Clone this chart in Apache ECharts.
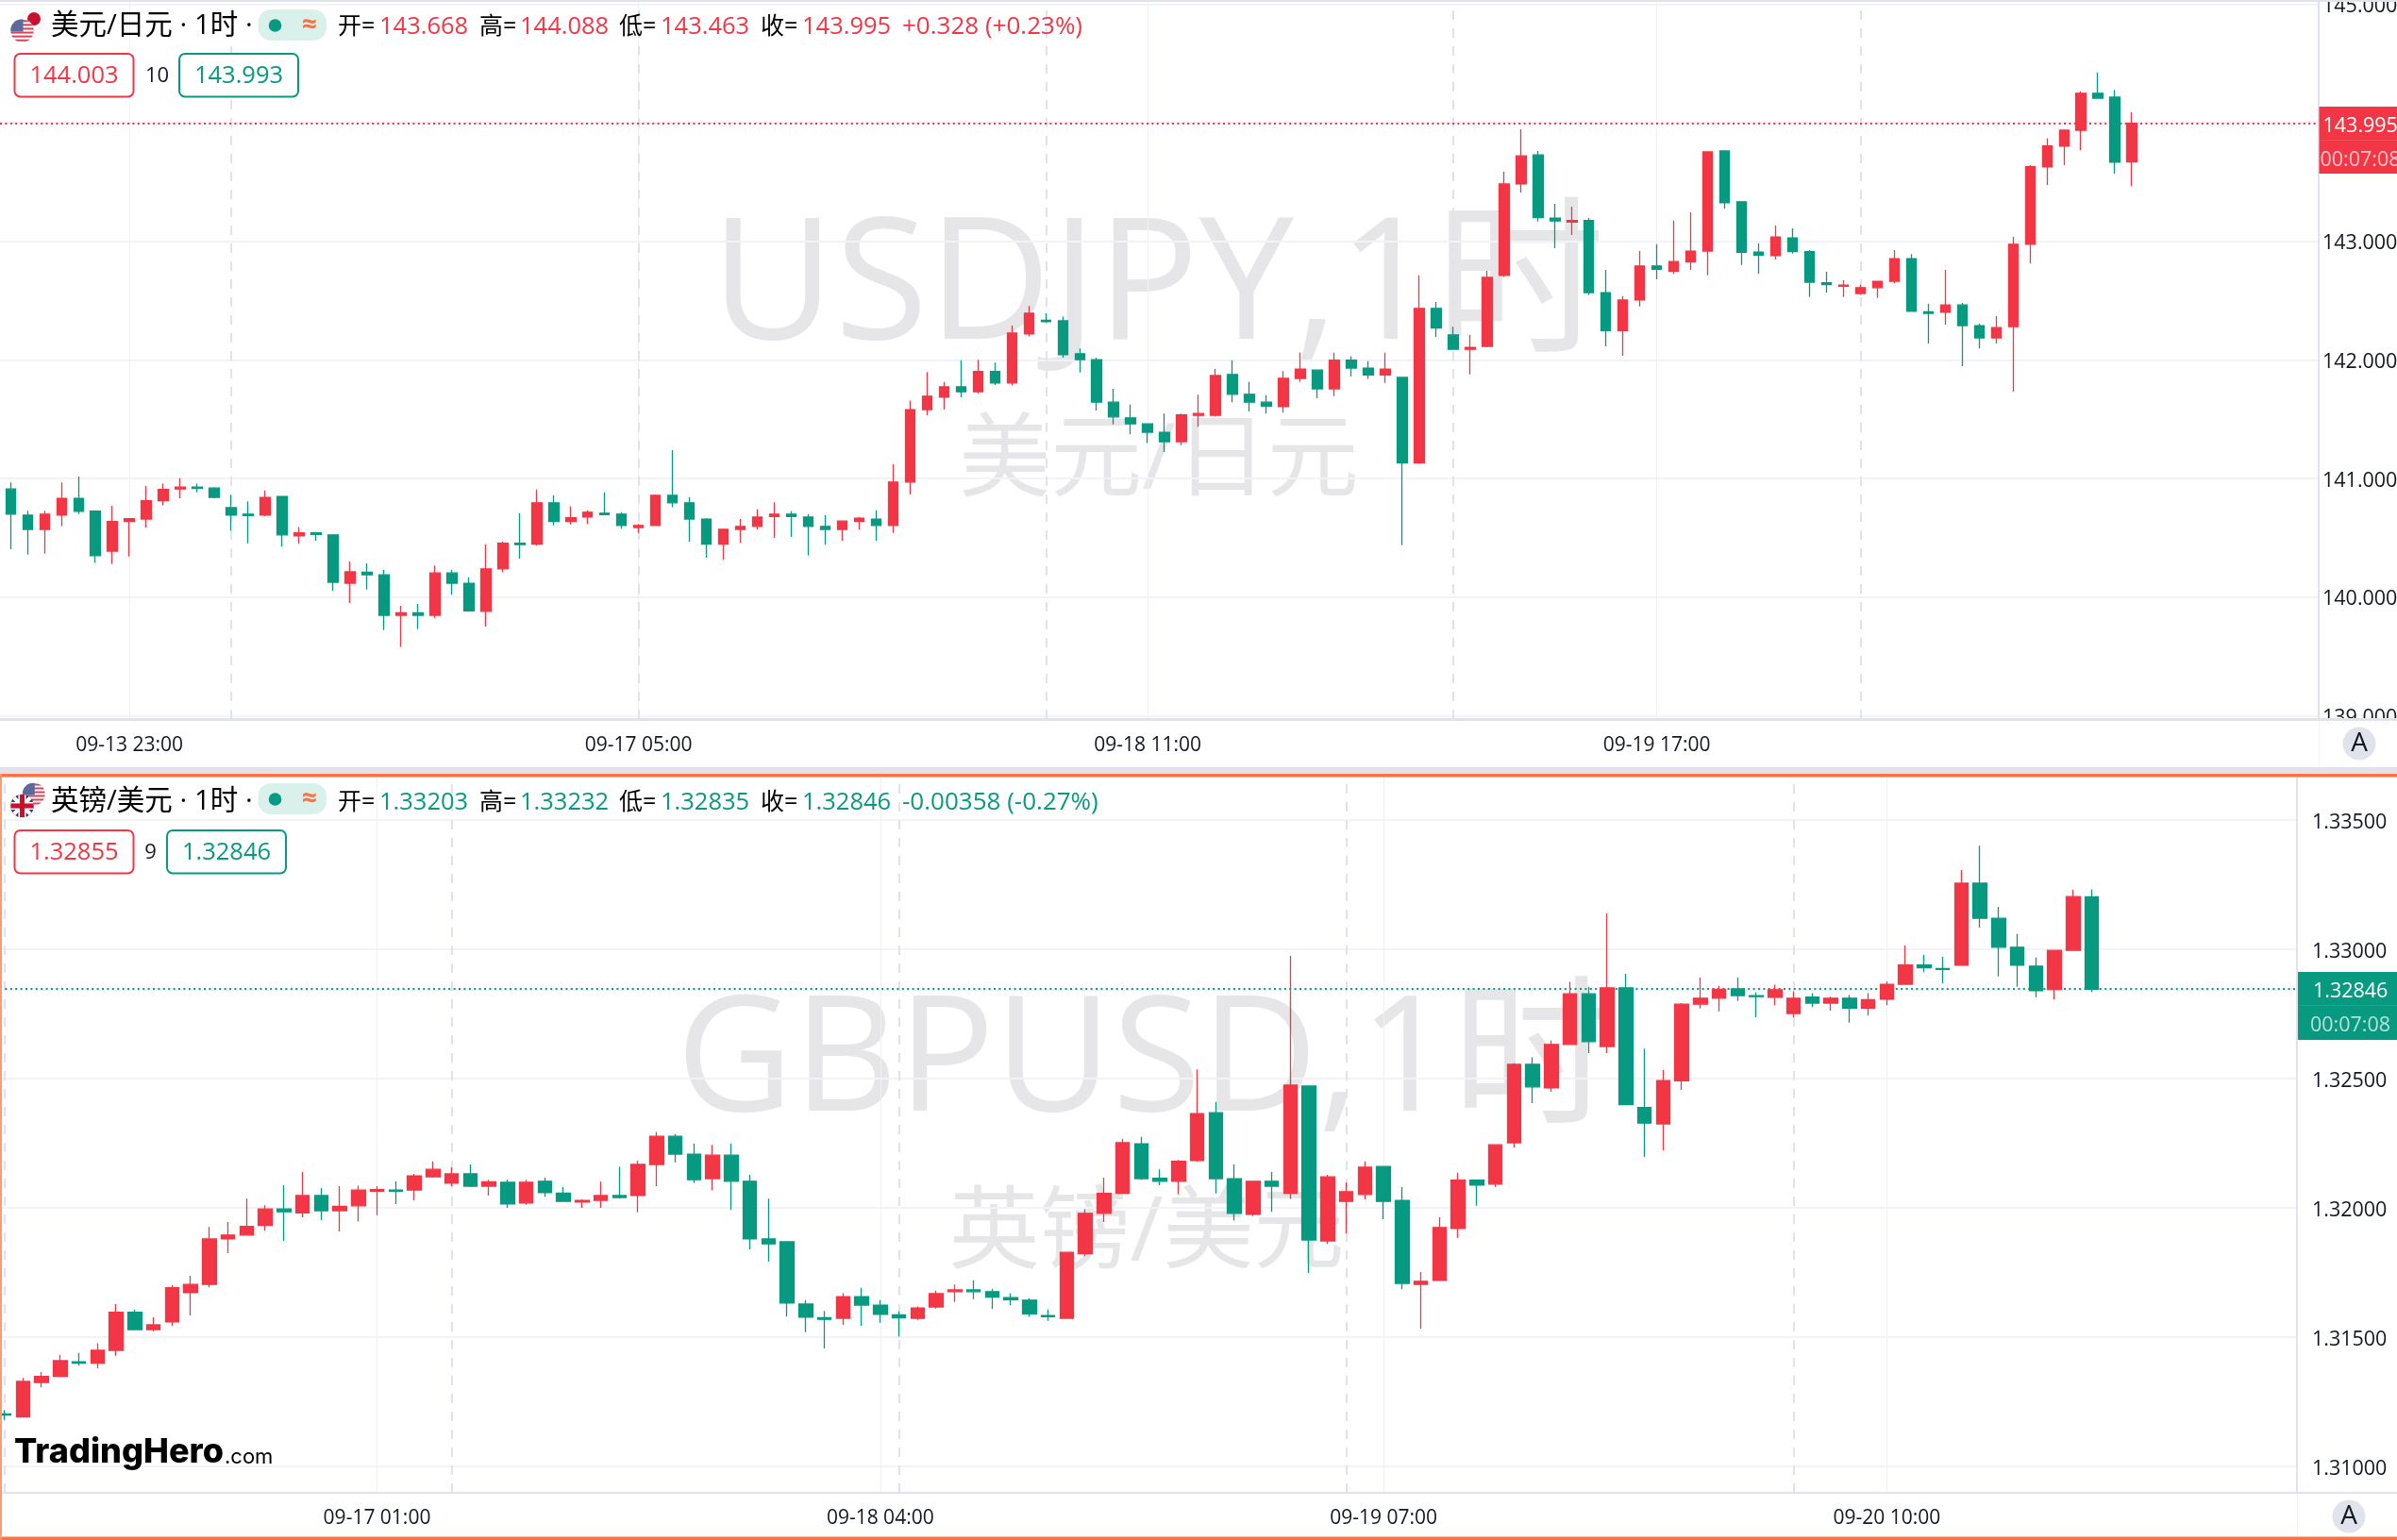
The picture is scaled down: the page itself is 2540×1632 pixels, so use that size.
<!DOCTYPE html>
<html>
<head>
<meta charset="utf-8">
<title>USDJPY GBPUSD 1H</title>
<style>
html, body { margin: 0; padding: 0; background: #fff; }
#main { width: 2540px; height: 1632px; }
</style>
<script src="https://cdn.jsdelivr.net/npm/echarts@6/dist/echarts.min.js"></script>
</head>
<body>
<div id="main"></div>
<script>
// 美元/日元 每根K线 [开, 收, 低, 高]
var usdjpyBars = [
    [140.912,140.700,140.404,140.966],[140.691,140.571,140.358,140.729],[140.571,140.700,140.367,140.729],[140.691,140.833,140.596,140.966],
    [140.833,140.724,140.700,141.016],[140.724,140.350,140.288,140.724],[140.388,140.637,140.279,140.770],[140.637,140.662,140.342,140.666],
    [140.658,140.812,140.587,140.937],[140.812,140.908,140.774,140.957],[140.912,140.928,140.833,141.003],[140.928,140.916,140.883,140.957],
    [140.920,140.841,140.833,140.928],[140.754,140.691,140.562,140.862],[140.700,140.687,140.454,140.808],[140.691,140.841,140.683,140.899],
    [140.849,140.525,140.425,140.849],[140.516,140.541,140.450,140.591],[140.541,140.529,140.475,140.550],[140.525,140.125,140.051,140.529],
    [140.117,140.213,139.951,140.300],[140.209,140.188,140.063,140.284],[140.188,139.847,139.722,140.229],[139.847,139.868,139.580,139.926],
    [139.868,139.847,139.730,139.942],[139.847,140.204,139.826,140.267],[140.204,140.117,140.021,140.229],[140.117,139.884,139.876,140.167],
    [139.880,140.238,139.751,140.446],[140.238,140.454,140.209,140.467],[140.454,140.442,140.325,140.708],[140.446,140.795,140.433,140.908],
    [140.795,140.637,140.604,140.858],[140.637,140.670,140.612,140.766],[140.675,140.716,140.616,140.733],[140.708,140.695,140.691,140.883],
    [140.700,140.604,140.575,140.716],[140.587,140.604,140.541,140.616],[140.604,140.858,140.600,140.866],[140.858,140.795,140.758,141.240],
    [140.795,140.658,140.467,140.841],[140.658,140.446,140.333,140.666],[140.446,140.571,140.317,140.575],[140.571,140.596,140.458,140.658],
    [140.596,140.675,140.571,140.741],[140.679,140.700,140.500,140.799],[140.700,140.679,140.508,140.724],[140.675,140.596,140.350,140.700],
    [140.596,140.571,140.442,140.691],[140.571,140.641,140.475,140.645],[140.637,140.666,140.571,140.675],[140.658,140.604,140.475,140.733],
    [140.604,140.970,140.541,141.120],[140.970,141.581,140.866,141.656],[141.581,141.694,141.532,141.898],[141.685,141.773,141.581,141.814],
    [141.773,141.731,141.685,141.997],[141.731,141.902,141.715,142.002],[141.902,141.806,141.789,141.977],[141.806,142.226,141.785,142.289],
    [142.218,142.393,142.197,142.455],[142.334,142.322,142.314,142.393],[142.330,142.043,142.018,142.364],[142.052,142.002,141.893,142.097],
    [142.002,141.644,141.573,142.018],[141.644,141.519,141.457,141.756],[141.511,141.461,141.373,141.623],[141.461,141.390,141.299,141.461],
    [141.390,141.311,141.224,141.548],[141.311,141.536,141.282,141.548],[141.532,141.548,141.436,141.706],[141.532,141.868,141.523,141.923],
    [141.877,141.710,141.644,141.997],[141.710,141.644,141.565,141.814],[141.644,141.611,141.548,141.702],[141.606,141.844,141.556,141.906],
    [141.844,141.923,141.814,142.060],[141.914,141.756,141.677,141.914],[141.756,141.997,141.694,142.060],[141.997,141.931,141.860,142.031],
    [141.931,141.873,141.839,141.989],[141.873,141.923,141.806,142.060],[141.852,141.132,140.437,141.852],[141.132,142.434,141.132,142.713],
    [142.434,142.268,142.193,142.488],[142.210,142.089,142.085,142.280],[142.089,142.106,141.877,142.210],[142.114,142.696,142.106,142.750],
    [142.713,143.483,142.700,143.587],[143.483,143.720,143.412,143.944],[143.728,143.200,143.166,143.761],[143.196,143.171,142.942,143.316],
    [143.162,143.175,143.054,143.291],[143.175,142.567,142.547,143.196],[142.567,142.247,142.114,142.759],[142.247,142.505,142.035,142.538],
    [142.505,142.792,142.451,142.917],[142.792,142.763,142.680,142.975],[142.746,142.829,142.725,143.175],[142.825,142.917,142.759,143.245],
    [142.917,143.753,142.713,143.753],[143.761,143.324,143.275,143.761],[143.333,142.908,142.800,143.333],[142.908,142.884,142.725,142.983],
    [142.879,143.037,142.846,143.133],[143.029,142.913,142.896,143.108],[142.913,142.655,142.530,142.925],[142.651,142.634,142.567,142.742],
    [142.621,142.630,142.530,142.671],[142.559,142.609,142.547,142.634],[142.609,142.663,142.522,142.663],[142.663,142.854,142.646,142.925],
    [142.854,142.409,142.409,142.892],[142.405,142.393,142.139,142.472],[142.401,142.463,142.297,142.759],[142.463,142.289,141.948,142.480],
    [142.289,142.185,142.097,142.305],[142.185,142.272,142.139,142.368],[142.280,142.975,141.731,143.037],[142.975,143.628,142.813,143.641],
    [143.628,143.803,143.474,143.869],[143.803,143.936,143.641,143.944],[143.936,144.248,143.770,144.265],[144.248,144.206,144.206,144.423],
    [144.215,143.666,143.570,144.277],[143.668,143.995,143.463,144.088]
];

// 英镑/美元 每根K线 [开, 收, 低, 高]
var gbpusdBars = [
    [1.31203,1.31199,1.31180,1.31218],[1.31191,1.31329,1.31191,1.31342],[1.31325,1.31348,1.31306,1.31365],[1.31348,1.31409,1.31348,1.31432],
    [1.31405,1.31399,1.31390,1.31439],[1.31399,1.31449,1.31380,1.31476],[1.31449,1.31596,1.31428,1.31628],[1.31596,1.31529,1.31527,1.31607],
    [1.31529,1.31548,1.31523,1.31577],[1.31559,1.31691,1.31544,1.31701],[1.31672,1.31704,1.31584,1.31737],[1.31704,1.31880,1.31693,1.31926],
    [1.31880,1.31895,1.31825,1.31945],[1.31895,1.31928,1.31895,1.32036],[1.31932,1.31996,1.31912,1.32010],[1.31996,1.31985,1.31872,1.32088],
    [1.31981,1.32048,1.31964,1.32139],[1.32048,1.31989,1.31953,1.32077],[1.31989,1.32006,1.31909,1.32084],[1.32008,1.32069,1.31947,1.32086],
    [1.32065,1.32071,1.31972,1.32084],[1.32069,1.32065,1.32015,1.32103],[1.32069,1.32124,1.32029,1.32132],[1.32120,1.32149,1.32117,1.32180],
    [1.32096,1.32132,1.32084,1.32157],[1.32132,1.32084,1.32080,1.32168],[1.32084,1.32101,1.32048,1.32109],[1.32099,1.32015,1.32000,1.32109],
    [1.32019,1.32099,1.32012,1.32109],[1.32103,1.32059,1.32042,1.32117],[1.32057,1.32025,1.32023,1.32080],[1.32023,1.32029,1.32000,1.32033],
    [1.32029,1.32048,1.32000,1.32101],[1.32048,1.32040,1.32036,1.32159],[1.32048,1.32168,1.31983,1.32183],[1.32168,1.32277,1.32084,1.32294],
    [1.32277,1.32208,1.32176,1.32286],[1.32208,1.32109,1.32096,1.32248],[1.32113,1.32204,1.32069,1.32244],[1.32204,1.32103,1.31993,1.32248],
    [1.32103,1.31880,1.31840,1.32128],[1.31880,1.31861,1.31792,1.32036],[1.31869,1.31632,1.31580,1.31869],[1.31628,1.31577,1.31519,1.31643],
    [1.31575,1.31569,1.31456,1.31601],[1.31573,1.31657,1.31548,1.31670],[1.31657,1.31624,1.31544,1.31691],[1.31624,1.31588,1.31556,1.31643],
    [1.31586,1.31575,1.31502,1.31600],[1.31573,1.31613,1.31567,1.31619],[1.31617,1.31668,1.31611,1.31680],[1.31676,1.31683,1.31636,1.31704],
    [1.31683,1.31676,1.31647,1.31720],[1.31676,1.31655,1.31609,1.31687],[1.31653,1.31645,1.31624,1.31670],[1.31643,1.31590,1.31579,1.31651],
    [1.31584,1.31579,1.31563,1.31607],[1.31573,1.31828,1.31573,1.31830],[1.31823,1.31979,1.31813,1.31996],[1.31979,1.32056,1.31945,1.32117],
    [1.32056,1.32252,1.32054,1.32267],[1.32248,1.32113,1.32109,1.32275],[1.32115,1.32103,1.32088,1.32149],[1.32103,1.32180,1.32052,1.32185],
    [1.32183,1.32365,1.32178,1.32536],[1.32368,1.32113,1.32056,1.32410],[1.32113,1.31979,1.31951,1.32168],[1.31975,1.32103,1.31968,1.32103],
    [1.32103,1.32084,1.31985,1.32139],[1.32056,1.32475,1.32035,1.32975],[1.32471,1.31876,1.31748,1.32471],[1.31872,1.32120,1.31861,1.32128],
    [1.32025,1.32063,1.31901,1.32099],[1.32052,1.32157,1.32033,1.32180],[1.32160,1.32025,1.31956,1.32160],[1.32029,1.31708,1.31685,1.32080],
    [1.31704,1.31716,1.31533,1.31752],[1.31720,1.31924,1.31720,1.31964],[1.31920,1.32107,1.31884,1.32136],[1.32107,1.32088,1.32008,1.32107],
    [1.32092,1.32244,1.32080,1.32244],[1.32252,1.32555,1.32233,1.32559],[1.32555,1.32468,1.32405,1.32582],[1.32464,1.32632,1.32449,1.32647],
    [1.32632,1.32828,1.32632,1.32874],[1.32828,1.32643,1.32599,1.32855],[1.32624,1.32851,1.32599,1.33139],[1.32851,1.32399,1.32399,1.32905],
    [1.32388,1.32328,1.32197,1.32616],[1.32325,1.32492,1.32223,1.32533],[1.32492,1.32788,1.32456,1.32792],[1.32788,1.32811,1.32771,1.32891],
    [1.32811,1.32845,1.32760,1.32859],[1.32847,1.32821,1.32800,1.32891],[1.32821,1.32817,1.32737,1.32834],[1.32815,1.32844,1.32784,1.32863],
    [1.32752,1.32811,1.32737,1.32838],[1.32815,1.32792,1.32777,1.32830],[1.32792,1.32811,1.32763,1.32817],[1.32811,1.32773,1.32716,1.32824],
    [1.32773,1.32805,1.32744,1.32830],[1.32807,1.32865,1.32784,1.32876],[1.32865,1.32939,1.32865,1.33015],[1.32939,1.32929,1.32912,1.32979],
    [1.32926,1.32922,1.32868,1.32971],[1.32939,1.33256,1.32939,1.33307],[1.33256,1.33120,1.33084,1.33401],[1.33120,1.33008,1.32895,1.33164],
    [1.33008,1.32939,1.32855,1.33059],[1.32935,1.32840,1.32815,1.32968],[1.32845,1.32996,1.32807,1.32996],[1.32996,1.33204,1.32996,1.33231],
    [1.33203,1.32846,1.32835,1.33232]
];

// 坐标轴刻度
var usdjpyPriceTicks = [139, 140, 141, 142, 143, 144, 145];
var gbpusdPriceTicks = [1.31, 1.315, 1.32, 1.325, 1.33, 1.335];
var usdjpyTimeIndex = [7, 37, 67, 97];
var usdjpyTimeLabels = ['09-13 23:00', '09-17 05:00', '09-18 11:00', '09-19 17:00'];
var gbpusdTimeIndex = [20, 47, 74, 101];
var gbpusdTimeLabels = ['09-17 01:00', '09-18 04:00', '09-19 07:00', '09-20 10:00'];

// 日期分隔虚线所在K线
var usdjpyDayBreaks = [13, 37, 61, 85, 109];
var gbpusdDayBreaks = [0, 24, 48, 72, 96];

// 现价
var usdjpyLast = 143.995;
var gbpusdLast = 1.32846;

var UP = '#f23645', DOWN = '#089981', LINE = '#e0e3eb', TEXT = '#131722', ORANGE = '#ff7043';
var FONT = '"Open Sans","Noto Sans CJK SC"';

var usFlag = 'data:image/svg+xml,' + encodeURIComponent('<svg xmlns="http://www.w3.org/2000/svg" width="48" height="48"><defs><clipPath id="c"><circle cx="24" cy="24" r="24"/></clipPath></defs><g clip-path="url(#c)"><rect width="48" height="48" fill="#fff"/><g fill="#d8455a"><rect y="2" width="48" height="4"/><rect y="10" width="48" height="4"/><rect y="18" width="48" height="4"/><rect y="26" width="48" height="4"/><rect y="34" width="48" height="4"/><rect y="42" width="48" height="4"/></g><rect width="26" height="26" fill="#5a6a9c"/></g></svg>');
var jpFlag = 'data:image/svg+xml,' + encodeURIComponent('<svg xmlns="http://www.w3.org/2000/svg" width="48" height="48"><circle cx="24" cy="24" r="23" fill="#fff" stroke="#eeeef0" stroke-width="2"/><circle cx="26" cy="22" r="14" fill="#c8102e"/></svg>');
var ukFlag = 'data:image/svg+xml,' + encodeURIComponent('<svg xmlns="http://www.w3.org/2000/svg" width="48" height="48"><defs><clipPath id="c"><circle cx="24" cy="24" r="24"/></clipPath></defs><g clip-path="url(#c)"><rect width="48" height="48" fill="#26337a"/><path d="M0 0L48 48M48 0L0 48" stroke="#fff" stroke-width="8"/><rect x="16" width="16" height="48" fill="#fff"/><rect y="16" width="48" height="16" fill="#fff"/><rect x="19" width="10" height="48" fill="#c8102e"/><rect y="19" width="48" height="10" fill="#c8102e"/></g></svg>');

function text(x, y, str, fill, size, align, weight, family, z) {
    return {
        type: 'text', z: z === undefined ? 100 : z, silent: true,
        style: {
            x: x, y: y, text: str, fill: fill, align: align || 'left', verticalAlign: 'middle',
            font: (weight || 'normal') + ' ' + size + 'px ' + (family || FONT)
        }
    };
}

function rect(x, y, w, h, fill, z, r) {
    return { type: 'rect', z: z === undefined ? 90 : z, silent: true, shape: { x: x, y: y, width: w, height: h, r: r || 0 }, style: { fill: fill } };
}

function box(x, y, w, h, color) {
    return { type: 'rect', z: 100, silent: true, shape: { x: x, y: y, width: w, height: h, r: 6 }, style: { fill: '#fff', stroke: color, lineWidth: 2 } };
}

function flag(src, cx, cy, r) {
    return { type: 'image', z: 100, silent: true, style: { image: src, x: cx - r, y: cy - r, width: r * 2, height: r * 2 } };
}

// 图例行：名称、状态标记、开高低收
function header(dy, name, color, vals, change) {
    var y = 29 + dy;
    return [
        text(54, y - 1, name, '#000', 29.5),
        rect(273.5, 10 + dy - (dy ? 2 : 0), 72.5, 33, '#daf0ea', 95, 14),
        { type: 'circle', z: 100, silent: true, shape: { cx: 291.5, cy: 27 + dy - (dy ? 2 : 0), r: 6.8 }, style: { fill: DOWN } },
        text(328, 27 + dy - (dy ? 2 : 0), '≈', ORANGE, 28, 'center', 'bold'),
        text(358, y, '开=', '#000', 25), text(402, y, vals[0], color, 25.5),
        text(508, y, '高=', '#000', 25), text(551, y, vals[1], color, 25.5),
        text(656, y, '低=', '#000', 25), text(700, y, vals[2], color, 25.5),
        text(806, y, '收=', '#000', 25), text(850, y, vals[3], color, 25.5),
        text(956, y, change, color, 26)
    ];
}

function priceTag(x, y, h, color, price) {
    var w = 2540 - x;
    return [
        rect(x, y, w, h, color, 96),
        rect(x, y + 35, w, 1, 'rgba(255,255,255,0.1)', 97),
        text(x + 4 + (x < 2440 ? 12 : 0), y + 21, price, '#fff', 21.5),
        text(x + 1 + (x < 2440 ? 12 : 0), y + 57, '00:07:08', 'rgba(255,255,255,0.7)', 21.5)
    ];
}

function candles(bars) {
    return bars.map(function (b, i) {
        return [i, b[0], b[1], b[2], b[3]];
    });
}

// 单个面板的K线序列
function buildSeries(index, bars, width, breaks, last, lastColor) {
    var lines = breaks.map(function (i) {
        return { xAxis: i, lineStyle: { color: LINE, width: 2, type: [10, 9] } };
    });
    lines.push({ yAxis: last, lineStyle: { color: lastColor, width: 2, type: [2, 3.4] } });
    return {
        type: 'candlestick',
        xAxisIndex: index,
        yAxisIndex: index,
        barWidth: width,
        data: candles(bars),
        animation: false,
        itemStyle: { color: UP, color0: DOWN, borderColor: UP, borderColor0: DOWN, borderWidth: 1.3 },
        markLine: { silent: true, symbol: 'none', precision: 5, z: 1, animation: false, label: { show: false }, data: lines }
    };
}

function buildXAxis(index, min, max, ticks, labels, margin) {
    return {
        type: 'value',
        gridIndex: index,
        min: min,
        max: max,
        axisLine: { show: false },
        axisTick: { show: false, customValues: ticks },
        splitLine: { show: true, lineStyle: { color: '#eff1f6', width: 1 } },
        axisLabel: {
            customValues: ticks,
            margin: margin,
            fontSize: 21,
            fontFamily: FONT,
            color: TEXT,
            formatter: function (v) { return labels[ticks.indexOf(v)]; }
        }
    };
}

function buildYAxis(index, min, max, ticks, digits, margin, padTop) {
    return {
        type: 'value',
        gridIndex: index,
        position: 'right',
        scale: true,
        min: min,
        max: max,
        axisLine: { show: true, onZero: false, lineStyle: { color: LINE, width: 2 } },
        axisTick: { show: false, customValues: ticks },
        splitLine: { show: true, lineStyle: { color: '#f1f3f8', width: 2 } },
        axisLabel: {
            customValues: ticks,
            margin: margin,
            fontSize: 21.5,
            fontFamily: FONT,
            color: TEXT,
            hideOverlap: false,
            showMinLabel: true,
            showMaxLabel: true,
            // 文字相对网格线略微下移
            rich: { p: { fontSize: 21.5, fontFamily: FONT, color: TEXT, padding: [padTop, 0, 0, 0] } },
            formatter: function (v) { return '{p|' + v.toFixed(digits) + '}'; }
        }
    };
}

var graphics = [
    // 水印
    text(1227, 308, 'USDJPY,1时', '#e6e6e8', 180, 'center', 'normal', FONT, 0),
    text(1228, 490, '美元/日元', '#e6e6e8', 97, 'center', 'normal', FONT, 0),
    text(1213, 1128, 'GBPUSD,1时', '#e6e6e8', 171, 'center', 'normal', FONT, 0),
    text(1215, 1309, '英镑/美元', '#e6e6e8', 96, 'center', 'normal', FONT, 0),

    // 面板边框
    rect(0, 0, 2540, 2, LINE),
    rect(0, 761, 2540, 3, LINE),
    rect(2458, 764, 82, 49, '#fff', 80),
    rect(2457, 764, 1, 49, '#f1f3f8'),
    rect(0, 813, 2540, 7, LINE),
    rect(0, 820, 2540, 3.5, ORANGE, 110),
    rect(0, 1628.5, 2540, 3.5, ORANGE, 110),
    rect(0, 820, 2, 812, '#ff9a70', 110),
    rect(0, 1581, 2540, 2, LINE),
    rect(2434, 1583, 1, 45, '#f1f3f8'),

    // 自动缩放按钮
    { type: 'circle', z: 100, silent: true, shape: { cx: 2500, cy: 788, r: 17.5 }, style: { fill: LINE } },
    text(2500, 788, 'A', TEXT, 28, 'center'),
    { type: 'circle', z: 100, silent: true, shape: { cx: 2489, cy: 1607, r: 17.5 }, style: { fill: LINE } },
    text(2489, 1607, 'A', TEXT, 28, 'center'),

    // 旗帜
    flag(jpFlag, 35, 21, 12),
    flag(usFlag, 23.5, 32.5, 12.3),
    flag(usFlag, 35.8, 841.5, 12),
    flag(ukFlag, 23.5, 854, 12.3),

    // 买卖价
    box(15.5, 57, 126, 45.5, UP), text(78.5, 81, '144.003', UP, 25.5, 'center'),
    text(166.5, 81, '10', TEXT, 22, 'center'),
    box(190, 57, 126, 45.5, DOWN), text(253, 81, '143.993', DOWN, 25.5, 'center'),
    box(15.5, 880, 126, 45.5, UP), text(78.5, 904, '1.32855', UP, 25.5, 'center'),
    text(159.5, 904, '9', TEXT, 22, 'center'),
    box(177, 880, 126, 45.5, DOWN), text(240, 904, '1.32846', DOWN, 25.5, 'center'),

    // 标识
    text(15, 1539, 'TradingHero', '#000', 36, 'left', '800', 'Inter'),
    text(238, 1544, '.com', '#000', 22, 'left', 'normal', 'Inter')
].concat(
    header(0, '美元/日元 · 1时 ·', UP, ['143.668', '144.088', '143.463', '143.995'], '+0.328 (+0.23%)'),
    header(822, '英镑/美元 · 1时 ·', DOWN, ['1.33203', '1.33232', '1.32835', '1.32846'], '-0.00358 (-0.27%)'),
    priceTag(2457.5, 113, 71, UP, '143.995'),
    priceTag(2435, 1030, 72, DOWN, '1.32846')
);

var chart = echarts.init(document.getElementById('main'));
chart.setOption({
    backgroundColor: '#fff',
    animation: false,
    tooltip: { show: false },
    grid: [
        { left: 0, top: 0, width: 2457, height: 762, outerBoundsMode: 'none' },
        { left: 0, top: 823, width: 2434, height: 759, outerBoundsMode: 'none' }
    ],
    xAxis: [
        buildXAxis(0, -0.63, 136, usdjpyTimeIndex, usdjpyTimeLabels, 18),
        buildXAxis(1, -0.228, 123.01, gbpusdTimeIndex, gbpusdTimeLabels, 17)
    ],
    yAxis: [
        buildYAxis(0, 138.972, 145.034, usdjpyPriceTicks, 3, 4, 5),
        buildYAxis(1, 1.30898, 1.33668, gbpusdPriceTicks, 5, 16, 6)
    ],
    series: [
        buildSeries(0, usdjpyBars, 11, usdjpyDayBreaks, usdjpyLast, UP),
        buildSeries(1, gbpusdBars, 15, gbpusdDayBreaks, gbpusdLast, DOWN)
    ],
    graphic: { elements: graphics }
});
</script>
</body>
</html>
